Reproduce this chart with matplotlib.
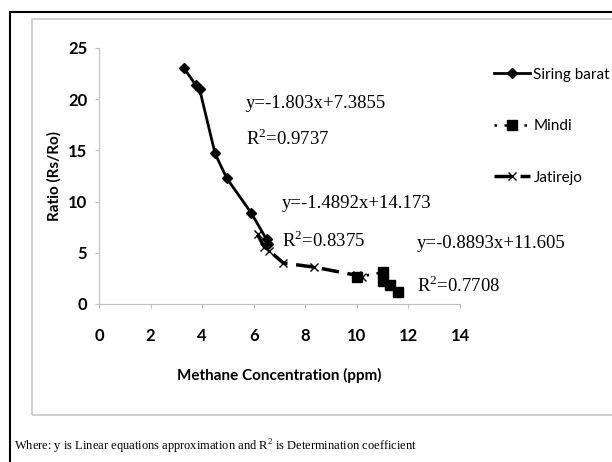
import matplotlib.pyplot as plt
from matplotlib.patches import Rectangle
from matplotlib.lines import Line2D

# data
siring_x = [3.3, 3.75, 3.9, 4.5, 4.95, 5.9, 6.5, 6.55]
siring_y = [23.0, 21.4, 21.0, 14.7, 12.3, 8.9, 6.3, 5.9]
mindi_x = [10.0, 11.0, 11.0, 11.3, 11.6]
mindi_y = [2.6, 3.1, 2.2, 1.9, 1.2]
jati_x = [6.15, 6.4, 6.6, 7.15, 8.35, 10.0, 10.2]
jati_y = [6.8, 5.6, 5.2, 4.0, 3.6, 2.8, 2.6]

eq_labels = ['y=-1.803x+7.3855', 'R$^{2}$=0.9737',
             'y=-1.4892x+14.173', 'R$^{2}$=0.8375',
             'y=-0.8893x+11.605', 'R$^{2}$=0.7708']
eq_pos = [(246, 103), (246, 139), (282, 204), (282, 241), (417, 243), (417, 286)]

sans = ['Lato', 'DejaVu Sans']
serif = ['Liberation Serif', 'DejaVu Serif']
plt.rcParams['mathtext.fontset'] = 'custom'
plt.rcParams['mathtext.rm'] = 'Liberation Serif'

W, H = 612, 462
fig = plt.figure(figsize=(W / 100, H / 100), dpi=100)

# outer black frame and inner grey chart box (pixel coords)
fig.add_artist(Line2D([10 / W, 1], [1 - 12 / H, 1 - 12 / H], color='black', lw=1.5))
fig.add_artist(Line2D([10 / W, 10 / W], [0, 1 - 12 / H], color='black', lw=1.5))
fig.add_artist(Rectangle((32 / W, 1 - 415 / H), (W - 32 + 20) / W, (415 - 19) / H,
                         fill=False, edgecolor='#c8c8c8', lw=1.2))

ax = fig.add_axes([99 / W, 1 - 304 / H, (460 - 99) / W, (304 - 48) / H])
ax.plot(siring_x, siring_y, color='black', lw=2, marker='D', ms=5, label='Siring barat')
ax.plot(mindi_x, mindi_y, color='black', lw=1.8, linestyle=(0, (1, 3)),
        marker='s', ms=7, label='Mindi')
ax.plot(jati_x, jati_y, color='black', lw=2.5, linestyle=(0, (5, 2.5)),
        marker='x', ms=6, mew=1, label='Jatirejo')

ax.set_xlim(0, 14)
ax.set_ylim(0, 25)
ax.set_xticks(range(0, 15, 2))
ax.set_yticks(range(0, 26, 5))
for s in ['top', 'right']:
    ax.spines[s].set_visible(False)
for s in ['left', 'bottom']:
    ax.spines[s].set_color('#bfbfbf')
ax.tick_params(color='#bfbfbf', length=3)
ax.tick_params(axis='x', pad=14)
ax.tick_params(axis='y', pad=5.5)
for lab in ax.get_xticklabels() + ax.get_yticklabels():
    lab.set_family(sans)
    lab.set_fontweight('bold')
    lab.set_fontsize(12)
ax.set_xlabel('Methane Concentration (ppm)', family=sans, fontweight='bold', fontsize=11)
ax.set_ylabel('Ratio (Rs/Ro)', family=sans, fontweight='bold', fontsize=11)
ax.xaxis.set_label_coords(0.5, -0.25)
ax.yaxis.set_label_coords(-0.105, 0.5)

leg = fig.legend(loc='upper left', bbox_to_anchor=(480 / W, 1 - 54 / H), frameon=False,
                 prop={'family': sans, 'size': 11}, labelspacing=2.45,
                 handlelength=2.4, handletextpad=0.2)

for t, (x, y) in zip(eq_labels, eq_pos):
    fig.text(x / W, 1 - y / H, t, family=serif, fontsize=13.5, va='center', ha='left')

fig.text(14 / W, 1 - 447 / H,
         'Where: y is Linear equations approximation and R$^{2}$ is Determination coefficient',
         family=serif, fontsize=9, va='center', ha='left')

fig.savefig('out.png', dpi=100)
